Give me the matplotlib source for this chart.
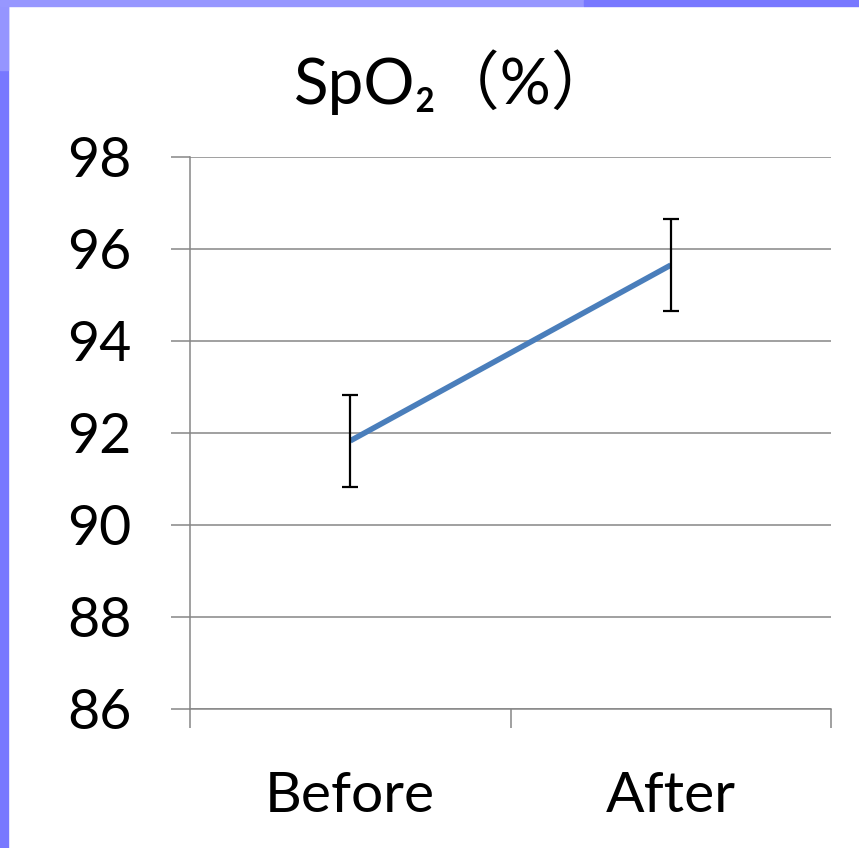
import matplotlib
matplotlib.use("Agg")
import matplotlib.pyplot as plt
from matplotlib.patches import Rectangle

categories = ["Before", "After"]
spo2_mean = [91.83, 95.65]
spo2_err = [1.0, 1.0]
yticks = [86, 88, 90, 92, 94, 96, 98]
title = "SpO₂（%）"

fam = ["Lato", "Noto Sans CJK JP", "DejaVu Sans"]
plt.rcParams["font.family"] = fam

W, H = 859, 848
fig = plt.figure(figsize=(W / 100, H / 100), dpi=100, facecolor="white")

# decorative border
fig.patches.append(Rectangle((0, 0), 8 / W, 1, transform=fig.transFigure, color="#7878FF", zorder=0))
fig.patches.append(Rectangle((0, 1 - 70 / H), 8 / W, 70 / H, transform=fig.transFigure, color="#9595FF", zorder=1))
fig.patches.append(Rectangle((0, 1 - 6 / H), 0.68, 6 / H, transform=fig.transFigure, color="#9797FF", zorder=1))
fig.patches.append(Rectangle((0.68, 1 - 6 / H), 0.32, 6 / H, transform=fig.transFigure, color="#7878FF", zorder=1))

ax = fig.add_axes([190 / W, 1 - 709 / H, (831 - 190) / W, (709 - 157) / H])
x = [0.5, 1.5]
ax.plot(x, spo2_mean, color="#4A7EBB", lw=4.0, solid_capstyle="butt", zorder=3)
ax.errorbar(x, spo2_mean, yerr=spo2_err, fmt="none", ecolor="black", elinewidth=1.6,
            capsize=6, capthick=1.6, zorder=4)

ax.set_xlim(0, 2)
ax.set_ylim(86, 98)
ax.set_yticks(yticks)
ax.set_yticklabels([str(v) for v in yticks], fontsize=40)
ax.set_xticks([0, 1, 2])
ax.set_xticklabels([])
ax.set_xticks(x, minor=True)
ax.set_xticklabels(categories, minor=True, fontsize=41)
ax.tick_params(axis="x", which="minor", length=0, pad=45)
ax.tick_params(axis="x", which="major", length=14, width=1.1, color="#868686", direction="out")
ax.tick_params(axis="y", length=14, width=1.1, color="#868686", direction="out", pad=28)
ax.yaxis.grid(True, color="#868686", lw=1.1)
ax.set_axisbelow(True)
for s in ["top", "right"]:
    ax.spines[s].set_visible(False)
for s in ["left", "bottom"]:
    ax.spines[s].set_color("#868686")
    ax.spines[s].set_linewidth(1.1)

fig.text(455 / W, 1 - 82 / H, title, fontsize=46, ha="center", va="center", family=fam)

fig.savefig("out.png", dpi=100, facecolor="white")
